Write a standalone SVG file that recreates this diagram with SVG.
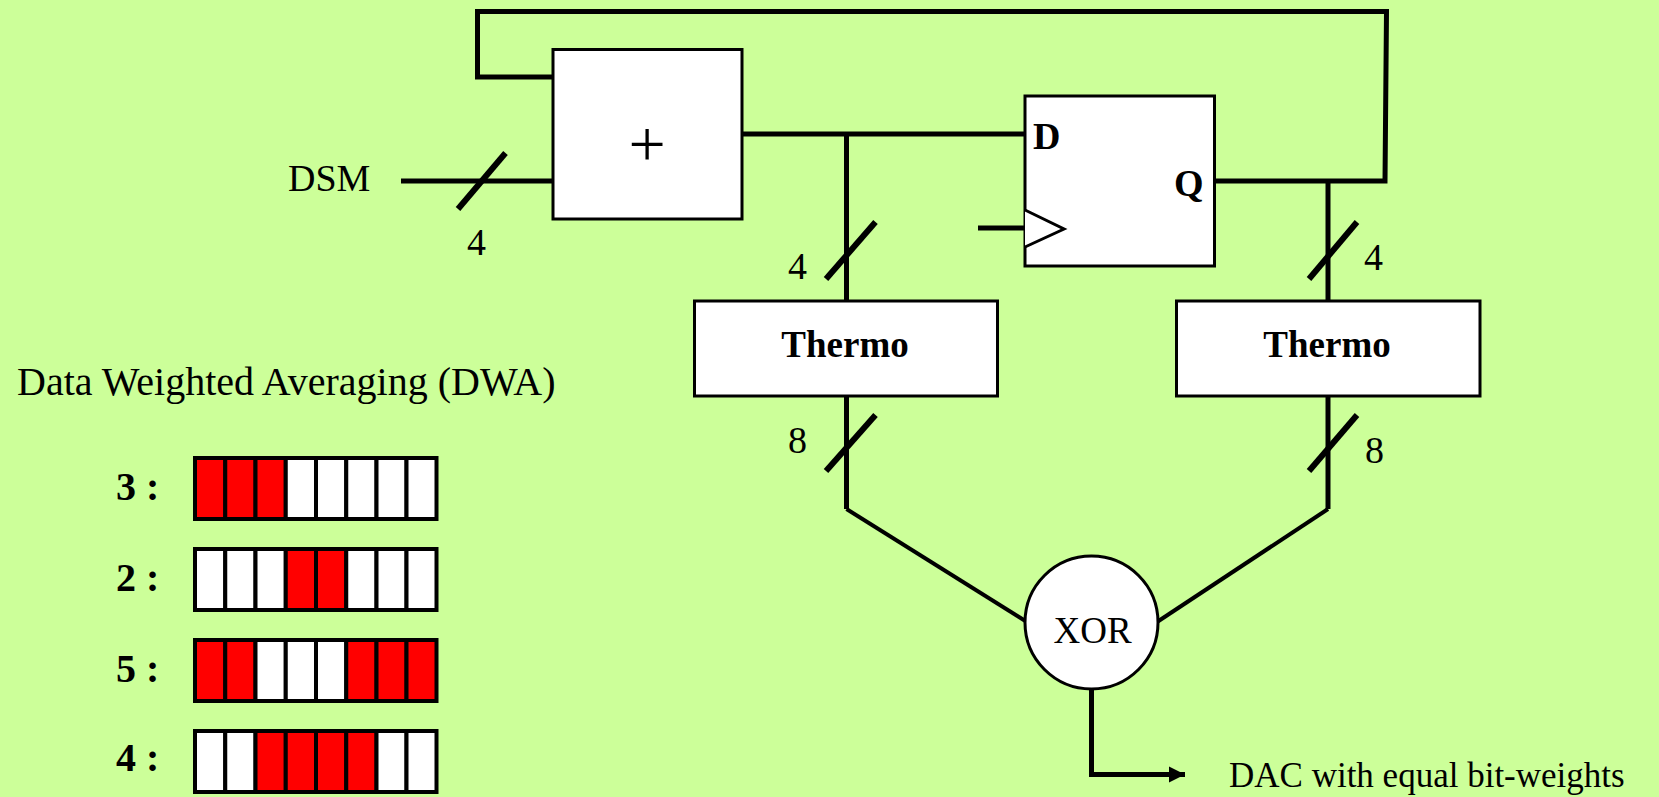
<svg xmlns="http://www.w3.org/2000/svg" width="1659" height="797" viewBox="0 0 1659 797">
<style>
text{font-family:"Liberation Serif","Times New Roman",serif;font-size:38px;fill:#000}
.b{font-weight:bold}
.m{text-anchor:middle}
.h{font-size:40px}
.t{font-size:37px}
.box{fill:#fff;stroke:#000;stroke-width:3}
.w{fill:none;stroke:#000;stroke-width:5}
.d{fill:none;stroke:#000;stroke-width:4}
.s{fill:none;stroke:#000;stroke-width:6}
.r{fill:#f00;stroke:#000;stroke-width:4}
.o{fill:#fff;stroke:#000;stroke-width:4}
</style>
<defs>
<marker id="arr" markerUnits="userSpaceOnUse" markerWidth="17" markerHeight="18" refX="16" refY="9" orient="auto"><path d="M0 1L16 9L0 17Z" fill="#000"/></marker>
</defs>
<rect width="1659" height="797" fill="#CCFF99"/>
<g id="connectors">
<path class="w" d="M553 77H477.500V11.500H1386.500L1385 181H1215"/>
<path class="w" d="M401 181H553"/>
<path class="w" d="M742 134H1025"/>
<path class="w" d="M846.500 134V301"/>
<path class="w" d="M1328 181V301"/>
<path class="w" d="M846.500 396V509"/>
<path class="w" d="M1328 396V509"/>
<path class="d" d="M846.500 509L1027 622"/>
<path class="d" d="M1328 509L1157 622"/>
<path class="w" d="M978 228H1025"/>
<path class="w" d="M1091.500 689V774.500H1185" marker-end="url(#arr)"/>
<path class="s" d="M458 209L505.500 153"/>
<path class="s" d="M826 279L875.500 222"/>
<path class="s" d="M1309 279L1357 222"/>
<path class="s" d="M826 471L875.500 415"/>
<path class="s" d="M1309 471L1357 415"/>
</g>
<g id="adder"><rect class="box" x="553" y="49.500" width="189" height="169.500"/><text class="m" x="647" y="166" style="font-size:66px">+</text></g>
<g id="dff"><rect class="box" x="1025" y="96" width="189.500" height="170"/><path fill="#fff" stroke="#000" stroke-width="3" d="M1025 210L1064 229L1025 247"/><text class="b" x="1033" y="149">D</text><text class="b" x="1174" y="196">Q</text></g>
<g id="thermo-left"><rect class="box" x="694.500" y="301" width="303" height="95"/><text class="b m t" x="845" y="357">Thermo</text></g>
<g id="thermo-right"><rect class="box" x="1176.500" y="301" width="303.500" height="95"/><text class="b m t" x="1327" y="357">Thermo</text></g>
<g id="xor"><circle cx="1091.500" cy="622.500" r="66.500" fill="#fff" stroke="#000" stroke-width="3"/><text class="m t" x="1092.500" y="643">XOR</text></g>
<g id="labels">
<text x="288" y="191">DSM</text>
<text x="467" y="255">4</text>
<text x="788" y="279">4</text>
<text x="1364" y="270">4</text>
<text x="788" y="453">8</text>
<text x="1365" y="463">8</text>
<text class="h" x="17" y="395">Data Weighted Averaging (DWA)</text>
<text x="1229" y="787" style="font-size:35px">DAC with equal bit-weights</text>
<text class="b h" x="116" y="500">3 :</text>
<text class="b h" x="116" y="591">2 :</text>
<text class="b h" x="116" y="682">5 :</text>
<text class="b h" x="116" y="771">4 :</text>
</g>
<g id="bar-3"><rect class="r" x="195" y="458" width="30.250" height="61"/><rect class="r" x="225.250" y="458" width="30.250" height="61"/><rect class="r" x="255.500" y="458" width="30.250" height="61"/><rect class="o" x="285.750" y="458" width="30.250" height="61"/><rect class="o" x="316" y="458" width="30.250" height="61"/><rect class="o" x="346.250" y="458" width="30.250" height="61"/><rect class="o" x="376.500" y="458" width="30" height="61"/><rect class="o" x="406.500" y="458" width="30" height="61"/></g>
<g id="bar-2"><rect class="o" x="195" y="549" width="30.250" height="61"/><rect class="o" x="225.250" y="549" width="30.250" height="61"/><rect class="o" x="255.500" y="549" width="30.250" height="61"/><rect class="r" x="285.750" y="549" width="30.250" height="61"/><rect class="r" x="316" y="549" width="30.250" height="61"/><rect class="o" x="346.250" y="549" width="30.250" height="61"/><rect class="o" x="376.500" y="549" width="30" height="61"/><rect class="o" x="406.500" y="549" width="30" height="61"/></g>
<g id="bar-5"><rect class="r" x="195" y="640" width="30.250" height="61"/><rect class="r" x="225.250" y="640" width="30.250" height="61"/><rect class="o" x="255.500" y="640" width="30.250" height="61"/><rect class="o" x="285.750" y="640" width="30.250" height="61"/><rect class="o" x="316" y="640" width="30.250" height="61"/><rect class="r" x="346.250" y="640" width="30.250" height="61"/><rect class="r" x="376.500" y="640" width="30" height="61"/><rect class="r" x="406.500" y="640" width="30" height="61"/></g>
<g id="bar-4"><rect class="o" x="195" y="731" width="30.250" height="61"/><rect class="o" x="225.250" y="731" width="30.250" height="61"/><rect class="r" x="255.500" y="731" width="30.250" height="61"/><rect class="r" x="285.750" y="731" width="30.250" height="61"/><rect class="r" x="316" y="731" width="30.250" height="61"/><rect class="r" x="346.250" y="731" width="30.250" height="61"/><rect class="o" x="376.500" y="731" width="30" height="61"/><rect class="o" x="406.500" y="731" width="30" height="61"/></g>
</svg>
